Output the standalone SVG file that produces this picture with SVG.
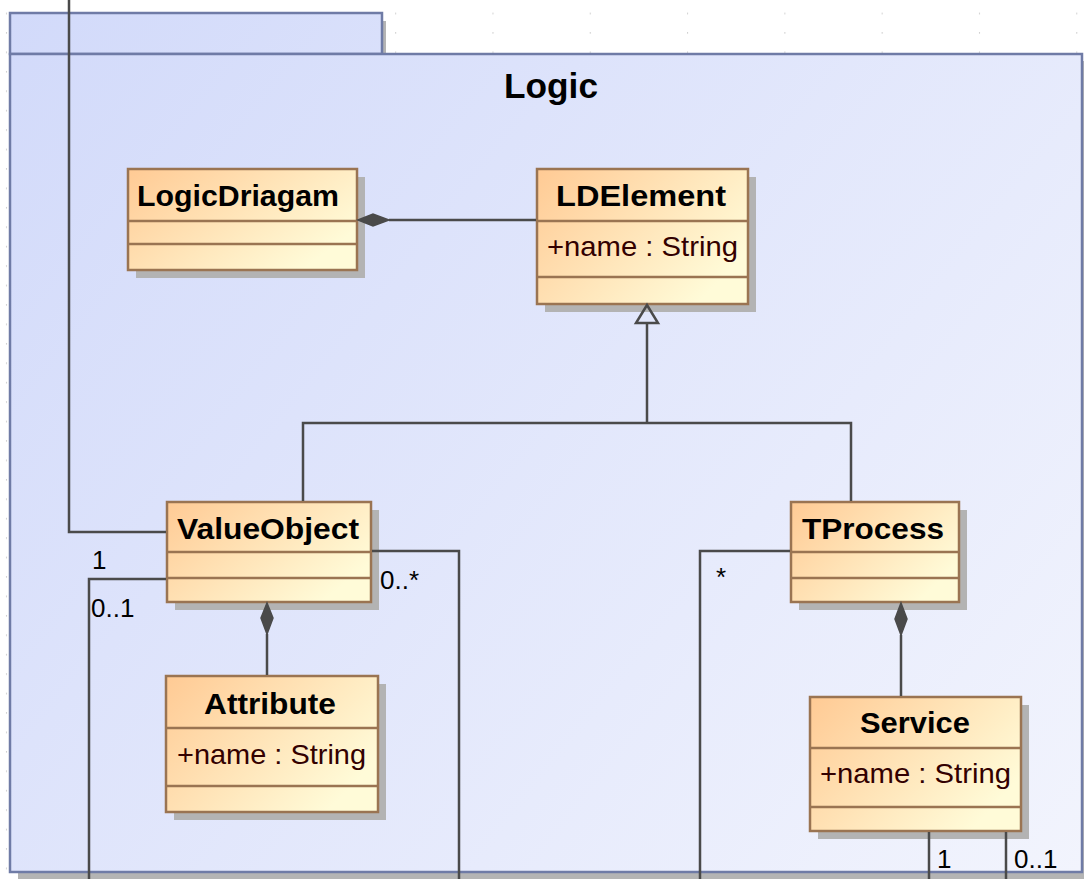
<svg xmlns="http://www.w3.org/2000/svg" width="1084" height="879" viewBox="0 0 1084 879">
<defs>
  <pattern id="grid" x="0" y="0" width="97.3" height="19.43" patternUnits="userSpaceOnUse">
    <rect x="6" y="13" width="1" height="1" fill="#a8a8a8"/>
  </pattern>
  <linearGradient id="pkgFill" gradientUnits="userSpaceOnUse" x1="10" y1="13" x2="1082" y2="872">
    <stop offset="0" stop-color="#d2dafa"/>
    <stop offset="1" stop-color="#f2f4fd"/>
  </linearGradient>
  <linearGradient id="clsFill" x1="0" y1="0" x2="1" y2="0.6">
    <stop offset="0" stop-color="#ffca94"/>
    <stop offset="1" stop-color="#fffbd8"/>
  </linearGradient>
  <style>
    .pkg { fill: url(#pkgFill); stroke: #6f7ba6; stroke-width: 2.5; }
    .pshadow { fill: #b4b4b4; }
    .shadow { fill: #b3b3b3; }
    .box { fill: url(#clsFill); stroke: #9a7452; stroke-width: 2.5; }
    .div { stroke: #9a7452; stroke-width: 2.5; fill: none; }
    .cname { font-family: "Liberation Sans", Arial, sans-serif; font-weight: bold; font-size: 29px; fill: #000; }
    .attr { font-family: "Liberation Sans", Arial, sans-serif; font-size: 28px; fill: #330000; }
    .lbl { font-family: "Liberation Sans", Arial, sans-serif; font-size: 26px; fill: #000; }
    .title { font-family: "Liberation Sans", Arial, sans-serif; font-weight: bold; font-size: 35px; fill: #000; }
    .edge { stroke: #4a4a4a; stroke-width: 2.5; fill: none; }
    .dia { fill: #4a4a4a; stroke: #4a4a4a; stroke-width: 1.5; stroke-linejoin: miter; }
    .tri { fill: none; stroke: #4a4a4a; stroke-width: 2.5; stroke-linejoin: miter; }
  </style>
</defs>
<rect x="0" y="0" width="1084" height="879" fill="#ffffff"/>
<rect x="0" y="0" width="1084" height="879" fill="url(#grid)"/>

<g id="package-Logic">
  <rect class="pshadow" x="14" y="21" width="372" height="41"/>
  <rect class="pshadow" x="18" y="61" width="1072" height="818"/>
  <rect class="pkg" x="10" y="13" width="372" height="41"/>
  <rect class="pkg" x="10" y="54" width="1072" height="818"/>
  <text class="title" x="504" y="98" textLength="94" lengthAdjust="spacingAndGlyphs">Logic</text>
</g>

<g id="LogicDriagam">
  <rect class="shadow" x="136" y="177" width="229" height="101"/>
  <rect class="box" x="128" y="169" width="229" height="101"/>
  <line class="div" x1="128" y1="221" x2="357" y2="221"/>
  <line class="div" x1="128" y1="244" x2="357" y2="244"/>
  <text class="cname" x="137" y="206" textLength="202" lengthAdjust="spacingAndGlyphs">LogicDriagam</text>
</g>

<g id="LDElement">
  <rect class="shadow" x="545" y="177" width="211" height="135"/>
  <rect class="box" x="537" y="169" width="211" height="135"/>
  <line class="div" x1="537" y1="221" x2="748" y2="221"/>
  <line class="div" x1="537" y1="277" x2="748" y2="277"/>
  <text class="cname" x="556" y="206" textLength="170" lengthAdjust="spacingAndGlyphs">LDElement</text>
  <text class="attr" x="547" y="256" textLength="191" lengthAdjust="spacingAndGlyphs">+name : String</text>
</g>

<g id="ValueObject">
  <rect class="shadow" x="175" y="510" width="204" height="100"/>
  <rect class="box" x="167" y="502" width="204" height="100"/>
  <line class="div" x1="167" y1="552" x2="371" y2="552"/>
  <line class="div" x1="167" y1="578" x2="371" y2="578"/>
  <text class="cname" x="177" y="539" textLength="182" lengthAdjust="spacingAndGlyphs">ValueObject</text>
</g>

<g id="TProcess">
  <rect class="shadow" x="799" y="510" width="168" height="100"/>
  <rect class="box" x="791" y="502" width="168" height="100"/>
  <line class="div" x1="791" y1="552" x2="959" y2="552"/>
  <line class="div" x1="791" y1="578" x2="959" y2="578"/>
  <text class="cname" x="802" y="539" textLength="142" lengthAdjust="spacingAndGlyphs">TProcess</text>
</g>

<g id="Attribute">
  <rect class="shadow" x="174" y="684" width="212" height="136"/>
  <rect class="box" x="166" y="676" width="212" height="136"/>
  <line class="div" x1="166" y1="728" x2="378" y2="728"/>
  <line class="div" x1="166" y1="786" x2="378" y2="786"/>
  <text class="cname" x="204" y="714" textLength="132" lengthAdjust="spacingAndGlyphs">Attribute</text>
  <text class="attr" x="177" y="764" textLength="189" lengthAdjust="spacingAndGlyphs">+name : String</text>
</g>

<g id="Service">
  <rect class="shadow" x="818" y="705" width="211" height="134"/>
  <rect class="box" x="810" y="697" width="211" height="134"/>
  <line class="div" x1="810" y1="748" x2="1021" y2="748"/>
  <line class="div" x1="810" y1="807" x2="1021" y2="807"/>
  <text class="cname" x="860" y="733" textLength="110" lengthAdjust="spacingAndGlyphs">Service</text>
  <text class="attr" x="820" y="783" textLength="191" lengthAdjust="spacingAndGlyphs">+name : String</text>
</g>

<g id="connectors">
  <!-- external line into ValueObject -->
  <polyline class="edge" points="69,0 69,532 166,532"/>
  <!-- LogicDriagam - LDElement composition -->
  <line class="edge" x1="389" y1="220" x2="536" y2="220"/>
  <polygon class="dia" points="358,220 373,214 389,220 373,226"/>
  <!-- generalization -->
  <polyline class="edge" points="647,323 647,423"/>
  <polyline class="edge" points="303,501 303,423 851,423 851,501"/>
  <polygon class="tri" points="647,305 658,323 636,323"/>
  <!-- ValueObject - Attribute composition -->
  <line class="edge" x1="267" y1="634" x2="267" y2="675"/>
  <polygon class="dia" points="267,603 273,618 267,634 261,618"/>
  <!-- TProcess - Service composition -->
  <line class="edge" x1="901" y1="635" x2="901" y2="696"/>
  <polygon class="dia" points="901,603 907,619 901,635 895,619"/>
  <!-- ValueObject outgoing lines -->
  <polyline class="edge" points="166,579 89,579 89,879"/>
  <polyline class="edge" points="372,551 459,551 459,879"/>
  <!-- TProcess outgoing -->
  <polyline class="edge" points="790,551 700,551 700,879"/>
  <!-- Service outgoing -->
  <line class="edge" x1="929" y1="832" x2="929" y2="879"/>
  <line class="edge" x1="1006" y1="832" x2="1006" y2="879"/>
  <!-- multiplicities -->
  <text class="lbl" x="92" y="569">1</text>
  <text class="lbl" x="91" y="617">0..1</text>
  <text class="lbl" x="380" y="589">0..*</text>
  <text class="lbl" x="716" y="586">*</text>
  <text class="lbl" x="937" y="868">1</text>
  <text class="lbl" x="1014" y="868">0..1</text>
</g>
</svg>
